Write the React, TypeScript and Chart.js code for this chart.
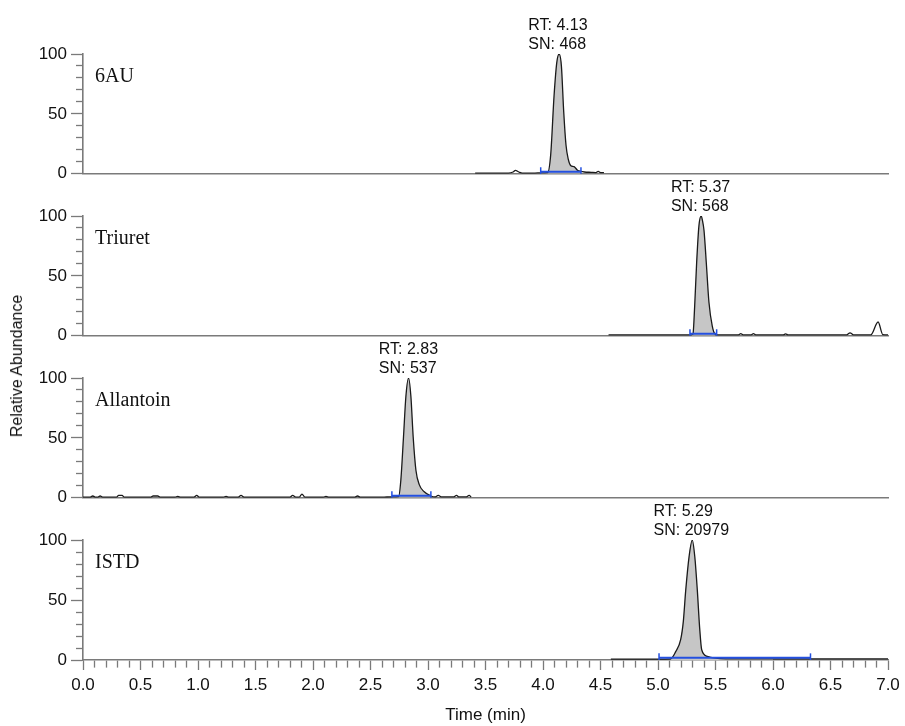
import React, { useEffect, useRef } from "react";
import { Chart, registerables } from "chart.js";

Chart.register(...registerables);

// ---------- data ----------
const compoundNames = ["6AU", "Triuret", "Allantoin", "ISTD"];
const retentionTimes = [4.13, 5.37, 2.83, 5.29];
const signalToNoise = [468, 568, 537, 20979];
const integrationStart = [3.98, 5.278, 2.686, 5.009];
const integrationEnd = [4.33, 5.51, 3.025, 6.326];
const integrationLevel = [1.8, 1.8, 1.8, 1.8];

const yTickLabels = [0, 50, 100];
const xTickLabels = ["0.0", "0.5", "1.0", "1.5", "2.0", "2.5", "3.0", "3.5", "4.0", "4.5", "5.0", "5.5", "6.0", "6.5", "7.0"];

// [time (min), relative abundance]
const trace6AU: number[][] = [
  [3.41, 0.6], [3.55, 0.6], [3.70, 0.6], [3.74, 1.5], [3.76, 2.8], [3.79, 1.5], [3.82, 0.6],
  [3.93, 0.6], [3.98, 0.8], [4.04, 1], [4.067, 16], [4.096, 65], [4.12, 93], [4.14, 100],
  [4.16, 90], [4.18, 52], [4.20, 24], [4.22, 12], [4.24, 7], [4.27, 6], [4.30, 3], [4.33, 2],
  [4.36, 1.5], [4.42, 1.2], [4.46, 1], [4.48, 2], [4.50, 1], [4.53, 1],
];

const traceTriuret: number[][] = [
  [4.57, 0.8], [4.9, 0.8], [5.2, 0.8], [5.29, 0.8], [5.304, 1.5], [5.319, 25], [5.336, 61],
  [5.356, 92], [5.376, 100], [5.385, 97], [5.40, 88], [5.42, 61], [5.443, 28], [5.472, 8],
  [5.495, 1.5], [5.52, 0.8], [5.70, 0.8], [5.72, 1.8], [5.74, 0.8], [5.81, 0.8], [5.83, 1.8],
  [5.85, 0.8], [6.09, 0.8], [6.11, 1.6], [6.13, 0.8], [6.64, 0.8], [6.67, 2.5], [6.70, 0.8],
  [6.85, 0.8], [6.914, 11.5], [6.955, 1], [7.0, 0.8],
];

const traceAllantoin: number[][] = [
  [0.0, 0.5], [0.06, 0.5], [0.085, 1.5], [0.11, 0.5], [0.13, 0.5], [0.149, 1.5], [0.17, 0.5],
  [0.29, 0.5], [0.31, 2], [0.34, 2], [0.36, 0.5], [0.59, 0.5], [0.61, 1.5], [0.65, 1.5],
  [0.67, 0.5], [0.80, 0.5], [0.824, 1.2], [0.85, 0.5], [0.965, 0.5], [0.989, 2], [1.01, 0.5],
  [1.22, 0.5], [1.244, 1.2], [1.27, 0.5], [1.35, 0.5], [1.374, 2], [1.40, 0.5], [1.80, 0.5],
  [1.823, 2], [1.85, 0.5], [1.88, 0.5], [1.904, 3], [1.93, 0.5], [2.09, 0.5], [2.113, 1.2],
  [2.14, 0.5], [2.36, 0.5], [2.388, 1.5], [2.41, 0.5], [2.60, 0.5], [2.686, 0.8], [2.744, 1],
  [2.764, 15], [2.787, 51], [2.808, 85], [2.831, 100], [2.851, 85], [2.871, 51], [2.895, 23],
  [2.924, 11], [2.967, 5], [3.025, 1.5], [3.06, 0.7], [3.089, 2], [3.12, 0.7], [3.22, 0.7],
  [3.248, 2], [3.27, 0.7], [3.33, 0.7], [3.358, 2], [3.375, 0.7],
];

const traceISTD: number[][] = [
  [4.59, 0.8], [4.8, 0.8], [5.0, 0.8], [5.11, 1], [5.154, 7], [5.197, 17], [5.22, 32],
  [5.241, 58], [5.27, 86], [5.298, 100], [5.32, 86], [5.342, 58], [5.362, 27], [5.38, 8.5],
  [5.43, 3], [5.50, 1.5], [5.59, 1], [5.8, 1], [6.0, 1], [6.33, 1], [6.6, 1], [7.0, 1],
];

const traces = [trace6AU, traceTriuret, traceAllantoin, traceISTD];

// ---------- styling ----------
const FONT_SANS = "'Liberation Sans', Arial, Helvetica, sans-serif";
const FONT_SERIF = "'Liberation Serif', 'Times New Roman', serif";
const AXIS_COLOR = "#7a7a7a";
const TEXT_COLOR = "#111111";

const peakLabelPlugin = {
  id: "peakLabels",
  afterDatasetsDraw(chart: any, _args: any, opts: any) {
    const { ctx, chartArea, scales } = chart;
    ctx.save();
    ctx.fillStyle = TEXT_COLOR;
    ctx.textAlign = "left";
    ctx.textBaseline = "alphabetic";
    ctx.font = `20px ${FONT_SERIF}`;
    ctx.fillText(opts.name, chartArea.left + 12, chartArea.top + 28);
    ctx.font = `16px ${FONT_SANS}`;
    const l1 = `RT: ${opts.rt.toFixed(2)}`;
    const l2 = `SN: ${opts.sn}`;
    const w = Math.max(ctx.measureText(l1).width, ctx.measureText(l2).width);
    const cx = scales.x.getPixelForValue(opts.rt);
    const top = scales.y.getPixelForValue(100);
    ctx.fillText(l1, cx - w / 2, top - 24);
    ctx.fillText(l2, cx - w / 2, top - 5);
    ctx.restore();
  },
};

function buildConfig(i: number, isBottom: boolean): any {
  const pts = traces[i].map(([x, y]) => ({ x, y }));
  const fillPts = pts.filter((p) => p.x >= integrationStart[i] && p.x <= integrationEnd[i]);
  const bluePts = [
    { x: integrationStart[i], y: integrationLevel[i] },
    { x: integrationEnd[i], y: integrationLevel[i] },
  ];
  const tickFont = { family: FONT_SANS, size: 17 };
  return {
    type: "line",
    data: {
      datasets: [
        {
          data: bluePts,
          borderColor: "#2450e0",
          borderWidth: 2,
          pointStyle: "line",
          pointRotation: 90,
          pointRadius: 4.5,
          pointBorderColor: "#2450e0",
          pointBorderWidth: 1.5,
          fill: false,
          order: 0,
        },
        {
          data: pts,
          borderColor: "#1a1a1a",
          borderWidth: 1.3,
          pointRadius: 0,
          fill: false,
          cubicInterpolationMode: "monotone",
          order: 1,
        },
        {
          data: fillPts,
          borderWidth: 0,
          borderColor: "rgba(0,0,0,0)",
          backgroundColor: "#c6c6c6",
          pointRadius: 0,
          fill: "origin",
          cubicInterpolationMode: "monotone",
          order: 2,
        },
      ],
    },
    options: {
      responsive: false,
      animation: false,
      devicePixelRatio: 1,
      events: [],
      layout: { padding: { top: 42, right: 17, left: 0, bottom: 0 } },
      plugins: {
        legend: { display: false },
        tooltip: { enabled: false },
        peakLabels: { name: compoundNames[i], rt: retentionTimes[i], sn: signalToNoise[i] },
      },
      scales: {
        x: {
          type: "linear",
          min: 0,
          max: 7,
          afterBuildTicks: (s: any) => {
            const t = [];
            for (let k = 0; k <= 70; k++) t.push({ value: k / 10 });
            s.ticks = t;
          },
          afterFit: (s: any) => {
            s.height = isBottom ? 66 : 14;
          },
          border: { display: true, color: AXIS_COLOR, width: 1.6 },
          grid: {
            display: true,
            drawOnChartArea: false,
            drawTicks: isBottom,
            tickLength: 10,
            tickColor: AXIS_COLOR,
            tickWidth: 1.3,
            tickBorderDash: (c: any) => {
              const v = c.tick ? Math.round(c.tick.value * 10) : 0;
              return v % 5 === 0 ? [] : [7, 100];
            },
            tickBorderDashOffset: 0,
          },
          ticks: {
            display: isBottom,
            autoSkip: false,
            maxRotation: 0,
            minRotation: 0,
            padding: 5,
            color: TEXT_COLOR,
            font: tickFont,
            callback: (v: number) => {
              const k = Math.round(v * 10);
              return k % 5 === 0 ? xTickLabels[k / 5] : "";
            },
          },
          title: {
            display: isBottom,
            text: "Time (min)",
            color: TEXT_COLOR,
            font: tickFont,
            padding: { top: 0, bottom: 0 },
          },
        },
        y: {
          type: "linear",
          min: 0,
          max: 100,
          afterBuildTicks: (s: any) => {
            const t = [];
            for (let k = 0; k <= 10; k++) t.push({ value: k * 10 });
            s.ticks = t;
          },
          afterFit: (s: any) => {
            s.width = 83;
          },
          border: { display: true, color: AXIS_COLOR, width: 1.6 },
          grid: {
            display: true,
            drawOnChartArea: false,
            drawTicks: true,
            tickLength: 12,
            tickColor: AXIS_COLOR,
            tickWidth: 1.3,
            tickBorderDash: (c: any) => {
              const v = c.tick ? c.tick.value : 0;
              return yTickLabels.includes(v) ? [] : [7, 5];
            },
            tickBorderDashOffset: 7,
          },
          ticks: {
            autoSkip: false,
            padding: 4,
            color: TEXT_COLOR,
            font: tickFont,
            callback: (v: number) => (yTickLabels.includes(v) ? String(v) : ""),
          },
        },
      },
    },
    plugins: [peakLabelPlugin],
  };
}

const panelTops = [12, 174, 336, 498];
const panelHeights = [176, 176, 176, 228];

function Panel({ index }: { index: number }) {
  const ref = useRef<HTMLCanvasElement>(null);
  useEffect(() => {
    const chart = new Chart(ref.current as HTMLCanvasElement, buildConfig(index, index === 3));
    return () => chart.destroy();
  }, [index]);
  return (
    <canvas
      ref={ref}
      width={905}
      height={panelHeights[index]}
      style={{ position: "absolute", left: 0, top: panelTops[index], width: 905, height: panelHeights[index] }}
    />
  );
}

export default function App() {
  return (
    <div style={{ position: "absolute", left: 0, top: 0, width: 905, height: 726, background: "#fff", overflow: "hidden" }}>
      {[0, 1, 2, 3].map((i) => (
        <Panel key={i} index={i} />
      ))}
      <div
        style={{
          position: "absolute",
          left: 17,
          top: 366,
          transform: "translate(-50%, -50%) rotate(-90deg)",
          fontFamily: FONT_SANS,
          fontSize: 16,
          color: TEXT_COLOR,
          whiteSpace: "nowrap",
        }}
      >
        Relative Abundance
      </div>
    </div>
  );
}
